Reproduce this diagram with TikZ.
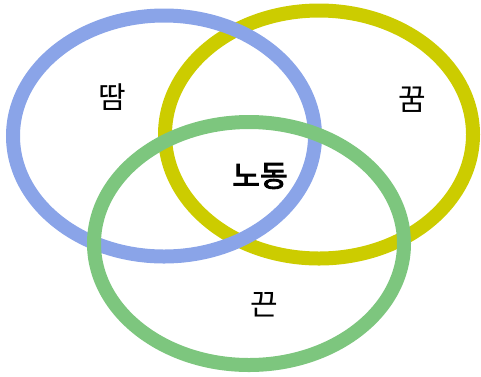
\documentclass[tikz,border=0pt]{standalone}
\usepackage{fontspec}
\newfontfamily\kr{Noto Sans CJK KR}
\newfontfamily\krm[FakeBold=3]{Noto Sans CJK KR}
\definecolor{ringblue}{HTML}{8AA4E8}
\definecolor{ringyellow}{HTML}{CCCC00}
\definecolor{ringgreen}{HTML}{7DC67E}
\begin{document}
\begin{tikzpicture}[x=1pt,y=-1pt,
  ring/.style={line width=14pt},
  lbl/.style={font=\kr\fontsize{30}{33}\selectfont, inner sep=0pt}]
\useasboundingbox (0,0) rectangle (481,376);
\draw[ring, ringyellow] (319,134.5) ellipse [x radius=154, y radius=124];
\draw[ring, ringblue] (164,136) ellipse [x radius=151, y radius=120.5];
\draw[ring, ringgreen] (249,243.5) ellipse [x radius=155, y radius=121.5];
\node[lbl] (a) at (112,97) {땀};
\node[lbl] (b) at (412,100) {꿈};
\node[lbl, font=\krm\fontsize{30}{33}\selectfont] (c) at (260,176) {노동};
\node[lbl] (d) at (264,305) {끈};
\end{tikzpicture}
\end{document}
